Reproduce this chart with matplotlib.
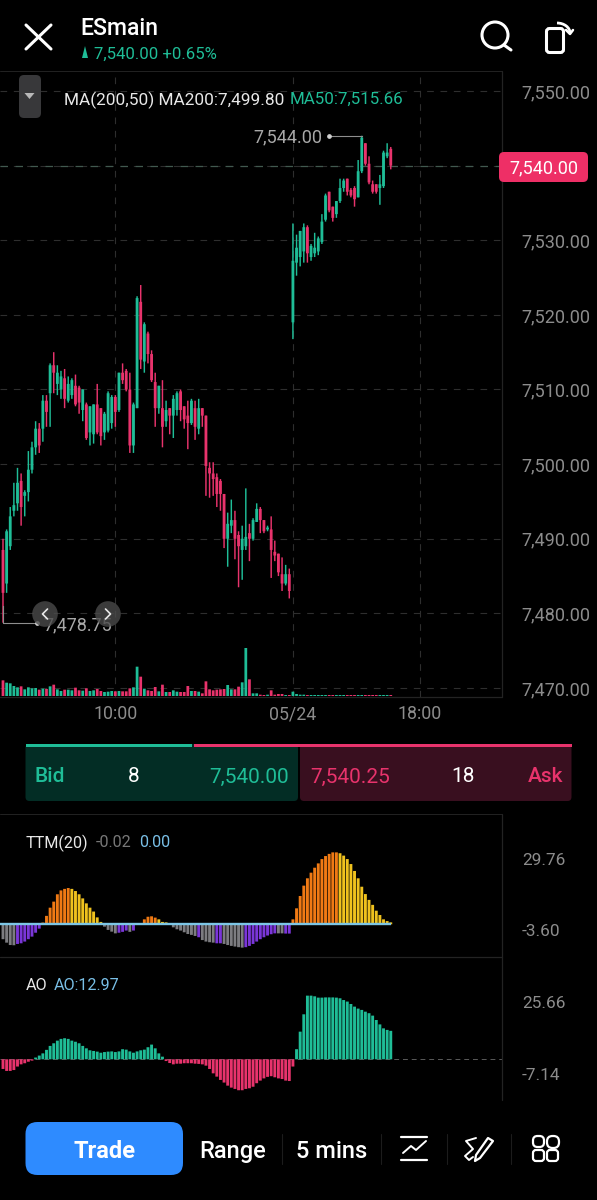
import matplotlib
matplotlib.use('Agg')
import matplotlib.pyplot as plt
from matplotlib.patches import FancyBboxPatch, Rectangle, Circle, Arc, Polygon

plt.rcParams['font.family'] = ['Roboto', 'DejaVu Sans']

W, H = 597, 1200
GREEN = '#1fbd97'
RED = '#e8336c'
GRID = '#2e2e2e'
BORDER = '#232323'
LABEL = '#8c8c8c'

# candles
opens = [7488.5, 7484, 7489, 7493.75, 7494.75, 7497.75, 7495.75, 7496.25, 7499.25, 7502.25,
         7504.75, 7504.75, 7508.5, 7509.5, 7513.25, 7510.75, 7510, 7511.5, 7508.5, 7509.25,
         7510.5, 7510.25, 7507.25, 7508, 7504.25, 7504, 7508, 7507.5, 7504.25, 7504.5,
         7505.5, 7509, 7507.25, 7512.25, 7512.5, 7510, 7502.5, 7507.5, 7521.75, 7513.75,
         7517.5, 7514.75, 7511, 7507.5, 7507.5, 7505.75, 7507.5, 7506.5, 7507.25, 7509.75,
         7507.75, 7506.5, 7505.5, 7507.5, 7504.75, 7507.5, 7506.5, 7499.5, 7498.75, 7498.25,
         7497.75, 7496, 7490, 7491.75, 7492.5, 7490.5, 7488.5, 7489, 7490.75, 7490,
         7492.25, 7494, 7492.5, 7491.25, 7491.25, 7488.25, 7488, 7485.25, 7484, 7485.25,
         7519, 7527, 7527.75, 7528.5, 7531.75, 7527.75, 7528.25, 7528.5, 7529.75, 7532.75,
         7536.5, 7534.5, 7533.5, 7535.25, 7537, 7538.25, 7536.75, 7537, 7535.75, 7539.25,
         7543, 7540.25, 7537.5, 7537.5, 7537, 7537.25, 7541.25, 7542.25]
closes = [7482.75, 7491, 7493, 7494.5, 7497.5, 7494.25, 7496.25, 7499.25, 7502.25, 7504.75,
          7502.5, 7508.5, 7507, 7513.25, 7512.25, 7512.25, 7511.75, 7508.75, 7510.75, 7511.25,
          7508, 7508.25, 7510, 7503.5, 7507.75, 7508, 7504.25, 7503.75, 7506.75, 7509.5,
          7509, 7507, 7512.25, 7511.25, 7510, 7502.5, 7508, 7522.25, 7514, 7518.75,
          7514.75, 7511.25, 7507.5, 7510.5, 7505, 7507.25, 7506.5, 7508.75, 7509.5, 7507.25,
          7506, 7505.5, 7508.5, 7505, 7507.5, 7506.5, 7499.75, 7498.75, 7498, 7496,
          7496, 7490, 7492, 7492.5, 7490, 7489, 7490, 7490.25, 7490, 7492.5,
          7494, 7492.5, 7491, 7491.5, 7488.5, 7487.75, 7485.5, 7484, 7485.25, 7483,
          7527.25, 7529, 7531.25, 7531.75, 7528.25, 7529.25, 7529, 7530.25, 7532.5, 7536,
          7534, 7533, 7535.25, 7537, 7538, 7536.5, 7536, 7535.5, 7539.25, 7543.75,
          7540.25, 7537.75, 7536.5, 7536.5, 7537.5, 7541.75, 7541.75, 7540]
highs = [7490, 7491.25, 7494.25, 7497.5, 7499.5, 7498.75, 7496.5, 7501.75, 7503, 7505.75,
         7505.5, 7509.25, 7509.25, 7513.5, 7515, 7513.25, 7512.5, 7512.75, 7511.75, 7511.5,
         7512, 7510.5, 7510, 7508.25, 7507.75, 7508, 7510.75, 7507.5, 7507, 7509.75,
         7509.25, 7509.25, 7512.25, 7513.5, 7512.75, 7512.25, 7508.25, 7522.5, 7524, 7519,
         7517.75, 7515.25, 7512.25, 7510.5, 7511.25, 7508.5, 7507.5, 7509.25, 7509.75, 7510,
         7507.75, 7508.5, 7508.75, 7508.5, 7508.75, 7507.5, 7506.5, 7500.25, 7500.25, 7498.75,
         7498, 7496, 7493.5, 7495.25, 7493.75, 7491, 7491.75, 7496.75, 7492, 7492.75,
         7494.75, 7494.25, 7492.5, 7491.75, 7493, 7489.75, 7488, 7487.5, 7486.5, 7486,
         7532.25, 7530.75, 7531.25, 7532.25, 7532, 7529.5, 7531, 7530.5, 7533.5, 7536.25,
         7536.5, 7534.5, 7535.25, 7538.25, 7538.25, 7538.25, 7537, 7537.25, 7540.75, 7544,
         7543, 7541.25, 7538, 7537.5, 7538.75, 7542, 7543, 7542.5]
lows = [7478.75, 7482.75, 7488.5, 7493, 7493.75, 7491.75, 7493, 7495, 7498.75, 7501.25,
        7501.5, 7503, 7505, 7505, 7509.5, 7509.25, 7508.75, 7507.5, 7508.25, 7508.75,
        7507.75, 7506.75, 7505.75, 7503.25, 7502.5, 7502.75, 7504, 7502.5, 7503.25, 7504.25,
        7504.75, 7505, 7507, 7510.75, 7509.75, 7501.5, 7501.5, 7507.5, 7512.75, 7512.25,
        7513.5, 7511, 7505, 7506.75, 7502.25, 7505, 7504, 7503.5, 7506.5, 7505.75,
        7504.75, 7502, 7505.25, 7503.25, 7504, 7505, 7495.75, 7495.5, 7495.75, 7494.25,
        7493.75, 7488.75, 7486.25, 7490.75, 7487.25, 7483.5, 7484.5, 7488.5, 7487, 7489.75,
        7492.25, 7490.75, 7490.75, 7491, 7484.75, 7487, 7485, 7483, 7483.75, 7482,
        7516.75, 7525.25, 7526.5, 7527, 7527, 7527.25, 7527.75, 7528, 7529.5, 7532.5,
        7533.75, 7532.5, 7533, 7535, 7536.5, 7536, 7535.75, 7534.5, 7535.75, 7539,
        7540, 7537.5, 7536.25, 7536.25, 7534.75, 7537, 7541, 7539.5]
volumes = [47, 40, 38, 30, 26, 29, 20, 26, 23, 24, 19, 22, 21, 29, 34, 20, 15, 19, 19, 17,
           25, 17, 16, 23, 15, 17, 21, 15, 12, 13, 15, 14, 15, 14, 14, 23, 26, 88, 58, 22,
           17, 15, 27, 14, 34, 12, 12, 17, 13, 12, 12, 30, 15, 15, 13, 8, 44, 20, 17, 19,
           20, 21, 33, 20, 20, 28, 41, 144, 50, 8, 8, 4, 3, 4, 17, 4, 6, 6, 3, 3,
           13, 6, 4, 4, 3, 3, 3, 3, 3, 3, 3, 3, 3, 3, 3, 3, 3, 3, 3, 3,
           3, 3, 3, 3, 3, 3, 3, 3]

ttm = [-6.9, -8.5, -9.6, -9.7, -9.1, -8.8, -8.0, -6.9, -5.7, -3.9, -2.0,
       0.8, 3.9, 7.7, 10.5, 13.9, 15.7, 16.4, 16.8, 16.4, 15.4, 13.9, 12.0, 9.7, 7.7, 5.9, 3.2, 1.1,
       -1.1, -2.6, -3.4, -4.2, -3.9, -3.5, -2.9, -3.5, -2.9, -0.3, 0.6,
       2.3, 3.5, 3.7, 3.1, 2.3, 1.1, 0.9, 0.3,
       -1.4, -2.3, -2.9, -3.7, -4.5, -4.9, -5.4, -6.0, -7.3, -8.0, -8.3, -8.5, -8.8, -8.8, -9.1,
       -9.6, -10.0, -10.3, -10.6, -10.8, -10.6, -10.0, -9.1, -8.0, -6.9, -6.0, -5.2, -4.6, -4.2,
       -4.2, -4.2, -4.3, -4.3,
       2.3, 7.4, 13.1, 17.9, 21.3, 23.9, 26.2, 28.2, 30.2, 31.6, 32.6, 33.3, 33.3, 32.9, 31.8,
       30.2, 27.9, 24.7, 21.3, 17.4, 14.0, 11.3, 9.0, 6.3, 4.3, 2.3, 1.5, 0.9]
# histogram colour state of each TTM bar, as runs
ttm_runs = [('gray', 4), ('purple', 7), ('orange', 8), ('yellow', 9), ('gray', 4), ('purple', 3),
            ('gray', 1), ('purple', 1), ('gray', 1), ('orange', 5), ('yellow', 4), ('gray', 7),
            ('purple', 1), ('gray', 4), ('purple', 2), ('gray', 6), ('purple', 9), ('gray', 2),
            ('purple', 2), ('orange', 13), ('yellow', 15)]
ttm_colors = {'gray': '#7c7c80', 'purple': '#7a36d8', 'orange': '#f07a14', 'yellow': '#f0c21e'}

ao = [-4.4, -5.3, -5.3, -4.9, -3.3, -2.3, -1.8, -1.1, -0.6,
      0.8, 1.7, 2.7, 4.3, 6.1, 7.3, 8.5, 9.3, 9.6, 9.3, 8.5, 8.0, 7.3, 6.1, 5.0, 4.1, 3.8, 3.5,
      3.0, 3.3, 3.5, 3.6, 3.3, 3.6, 4.6, 4.4, 3.6, 3.0, 3.6, 4.1, 4.4, 5.5, 6.7, 5.0, 2.7, 1.2,
      -0.8, -1.7, -2.3, -2.0, -2.0, -1.8, -1.8, -1.8, -2.0, -2.1, -2.3, -2.9, -4.4, -6.4, -7.9,
      -9.4, -10.6, -12.0, -12.9, -13.5, -14.1, -14.1, -13.5, -13.2, -12.5, -10.9, -9.7, -8.7,
      -8.0, -7.7, -8.2, -8.7, -9.0, -9.7, -9.9, -3.3,
      4.6, 12.6, 20.5, 29.0, 29.0, 28.7, 28.1, 28.1, 28.2, 28.2, 28.2, 28.1, 27.8, 27.0, 26.3,
      25.2, 24.0, 23.1, 22.5, 21.7, 21.0, 19.9, 17.9, 15.9, 14.1, 13.4, 12.97]

price_ticks = [7550, 7540, 7530, 7520, 7510, 7500, 7490, 7480, 7470]
time_ticks = [31, 80, 115]
time_labels = ['10:00', '05/24', '18:00']
last_price = 7540.00
high_price, low_price = 7544.00, 7478.75
ttm_axis = [29.76, -3.60]
ao_axis = [25.66, -7.14]

x = list(range(len(opens)))
xlim = (-3 / 3.624, (502 - 3) / 3.624)
candle_colors = [GREEN if c >= o else RED for o, c in zip(opens, closes)]

fig = plt.figure(figsize=(W / 100, H / 100), dpi=100, facecolor='black')


def panel(top, bottom, right=502):
    a = fig.add_axes([0, 1 - bottom / H, right / W, (bottom - top) / H], facecolor='none')
    a.set_xlim(xlim)
    for s in a.spines.values():
        s.set_visible(False)
    a.tick_params(length=0)
    a.set_xticks([])
    a.set_yticks([])
    return a


# price panel, the 7,540.00 tick sits under the last price tag
ax = panel(71, 697)
ax.set_facecolor('black')
ax.set_ylim(7550 - (697 - 91) / 7.4625, 7550 + (91 - 71) / 7.4625)
ax.set_yticks(price_ticks)
ax.set_yticklabels(['' if p == last_price else f'{p:,.2f}' for p in price_ticks],
                   color=LABEL, fontsize=13, ha='left')
ax.yaxis.tick_right()
ax.tick_params(axis='y', pad=14.2, length=0)
ax.set_xticks(time_ticks)
ax.set_xticklabels(time_labels, color=LABEL, fontsize=12.8)
ax.tick_params(axis='x', pad=6, length=0)
ax.set_axisbelow(True)
ax.grid(True, color=GRID, linewidth=0.8, linestyle=(0, (6, 6)))
ax.axhline(last_price, color='#41594f', linewidth=0.9, linestyle=(0, (6, 6)), zorder=1)
ax.vlines(x, lows, highs, colors=candle_colors, linewidth=1.05, zorder=2, snap=False)
ax.bar(x, [abs(c - o) for o, c in zip(opens, closes)], bottom=[min(o, c) for o, c in zip(opens, closes)],
       width=0.78, color=candle_colors, linewidth=0, zorder=3, snap=False)

# high and low markers
ax.plot([90.4, 99], [high_price, high_price], color='#8e8e8e', linewidth=0.8, zorder=4)
ax.plot([90.0], [high_price], 'o', color='#d0d0d0', markersize=2.4, zorder=4)
ax.text(88.0, high_price, f'{high_price:,.2f}', color='#a8a8a8', fontsize=13, ha='right',
        va='center_baseline')
ax.plot([0, 0, 9.4], [7481, low_price, low_price], color='#8e8e8e', linewidth=0.8, zorder=4)
ax.plot([9.4], [low_price], 'o', color='#d0d0d0', markersize=2.4, zorder=4)

# volume
vol = panel(640, 696)
vol.set_ylim(0, 168)
vol.bar(x, volumes, width=0.76, color=candle_colors, linewidth=0, snap=False)

# TTM squeeze
ax_ttm = panel(814, 957)
ax_ttm.set_ylim(-(957 - 924.3) / 2.16, (924.3 - 814) / 2.16)
bar_colors = [ttm_colors[name] for name, n in ttm_runs for _ in range(n)]
ax_ttm.bar(x, ttm, width=0.8, color=bar_colors, linewidth=0, snap=False)
ax_ttm.plot([xlim[0]] + x, [0.0] * (len(x) + 1), color='#7cc6e6', linewidth=1.7, solid_capstyle='butt')

# awesome oscillator
ax_ao = panel(957, 1100)
ax_ao.set_ylim(-(1100 - 1059.3) / 2.195, (1059.3 - 957) / 2.195)
ax_ao.bar(x, ao, width=0.8, color=[GREEN if v >= 0 else RED for v in ao], linewidth=0, snap=False)
ax_ao.axhline(0, color='#5a5a5a', linewidth=0.7, linestyle=(0, (5, 4)), zorder=0)

# everything else on one full-size layer in pixel coordinates
ui = fig.add_axes([0, 0, 1, 1], facecolor='none')
ui.set_xlim(0, W)
ui.set_ylim(H, 0)
ui.axis('off')


def line(xs, ys, color='white', lw=1.0, **kw):
    ui.plot(xs, ys, color=color, linewidth=lw, solid_capstyle='round', **kw)


def rbox(x0, y0, x1, y1, r, color, z=2):
    ui.add_patch(FancyBboxPatch((x0 + r, y0 + r), x1 - x0 - 2 * r, y1 - y0 - 2 * r,
                                boxstyle=f'round,pad={r},rounding_size={r}',
                                facecolor=color, edgecolor='none', zorder=z))


def label(px, py, s, color='white', size=12.4, ha='left', weight='normal', z=6):
    ui.text(px, py, s, color=color, fontsize=size, ha=ha, va='center_baseline', fontweight=weight, zorder=z)


# frame lines
line([0, 502], [71, 71], BORDER, 0.7)
line([0, 502], [697, 697], BORDER, 0.9)
line([502, 502], [71, 697], BORDER, 0.9)
line([0, 502], [814, 814], BORDER, 0.7)
line([0, 502], [957, 957], BORDER, 0.9)
line([502, 502], [814, 1100], BORDER, 0.9)

# header
line([26, 51], [25, 49], 'white', 2.2)
line([51, 26], [25, 49], 'white', 2.2)
label(80, 26, 'ESmain', size=16.6, weight='medium')
ui.add_patch(Polygon([[85, 46], [88, 58], [82, 58]], closed=True, facecolor=GREEN, edgecolor='none'))
label(94, 53, '7,540.00 +0.65%', GREEN, size=12.1)
ui.add_patch(Circle((495, 35), 13, facecolor='none', edgecolor='white', linewidth=2.2))
line([504, 511], [45, 50], 'white', 2.2)
ui.add_patch(FancyBboxPatch((549, 31), 12, 19, boxstyle='round,pad=2.5,rounding_size=3',
                            facecolor='none', edgecolor='white', linewidth=2.2))
ui.add_patch(Arc((557, 33), 26, 20, theta1=270, theta2=360, edgecolor='white', linewidth=2))
line([566, 570, 573], [30, 34, 30], 'white', 1.8)

# indicator button and MA legend
rbox(19, 75, 41, 118, 5, '#38383a')
ui.add_patch(Polygon([[24.5, 93], [34.5, 93], [29.5, 99]], closed=True, facecolor='#b8b8b8',
                     edgecolor='none', zorder=3))
label(64, 98, 'MA(200,50) MA200:7,499.80', '#e8e8e8', size=12.4)
label(290, 98, 'MA50:7,515.66', GREEN, size=12.2)

# last price tag
rbox(499, 152, 588, 182, 5, '#ee2f66', z=5)
label(543.5, 166.5, '7,540.00', 'white', size=13, ha='center')

# low label with the scroll buttons over it
label(43, 623, f'{low_price:,.2f}', '#a8a8a8', size=13, z=3)
for cx, d in ((45, -1), (108, 1)):
    ui.add_patch(Circle((cx, 614), 12.8, facecolor='#4b4b4b', edgecolor='none', alpha=0.8, zorder=4))
    line([cx - 2.5 * d, cx + 2.5 * d, cx - 2.5 * d], [609, 614, 619], '#e8e8e8', 1.2, zorder=5)

# bid / ask bar
rbox(25.5, 744, 298, 801, 4, '#032d25')
rbox(300, 744, 571.5, 801, 4, '#390f1f')
ui.add_patch(Rectangle((25.5, 744), 166, 3, facecolor=GREEN, edgecolor='none', zorder=3))
ui.add_patch(Rectangle((193.5, 744), 378, 3, facecolor=RED, edgecolor='none', zorder=3))
label(35, 775, 'Bid', GREEN, size=15, weight='medium')
label(134, 775, '8', 'white', size=15, ha='center')
label(289, 775, '7,540.00', GREEN, size=15, ha='right')
label(310, 775, '7,540.25', RED, size=15)
label(463, 775, '18', 'white', size=15, ha='center')
label(563, 775, 'Ask', RED, size=15, ha='right', weight='medium')

# indicator titles and axes
label(26, 841, 'TTM(20)', '#e8e8e8', size=11.6)
label(96, 841, '-0.02', '#777777', size=11.6)
label(139, 841, '0.00', '#79bfe6', size=11.6)
label(26, 984, 'AO', '#e8e8e8', size=11.6)
label(54, 984, 'AO:12.97', '#79bfe6', size=11.6)
for val, py in zip(ttm_axis + ao_axis, [859, 930, 1002, 1074]):
    label(522, py, f'{val:.2f}', LABEL, size=12.4)

# bottom toolbar
rbox(25.5, 1122, 183, 1175, 12, '#2e8bff')
label(104, 1149, 'Trade', 'white', size=17, ha='center', weight='bold')
label(232.5, 1149, 'Range', 'white', size=17, ha='center', weight='medium')
label(332, 1149, '5 mins', 'white', size=17, ha='center', weight='medium')
for sx in (282, 381, 447, 511):
    line([sx, sx], [1134, 1164], '#1c1c1c', 0.8)
line([401, 427], [1136.5, 1136.5], 'white', 1.6)
line([401, 427], [1159.5, 1159.5], 'white', 1.6)
line([403, 411, 416, 426], [1153, 1146, 1150, 1141], 'white', 1.4)
line([476, 466, 473, 465, 469, 473], [1138, 1141, 1149, 1156, 1160, 1157], 'white', 1.4)
ui.add_patch(Polygon([[488, 1138], [493, 1141], [480, 1158], [475, 1161], [476, 1155]], closed=True,
                     facecolor='none', edgecolor='white', linewidth=1.6, joinstyle='round'))
for bx, by, r in ((533, 1136, 4.5), (547, 1136, 5.5), (533, 1150, 3), (547, 1150, 3)):
    ui.add_patch(FancyBboxPatch((bx + r, by + r), 11 - 2 * r if r < 5 else 1, 11 - 2 * r if r < 5 else 1,
                                boxstyle=f'round,pad={r},rounding_size={r}',
                                facecolor='none', edgecolor='white', linewidth=1.6))

fig.savefig('out.png', dpi=100, facecolor='black')
